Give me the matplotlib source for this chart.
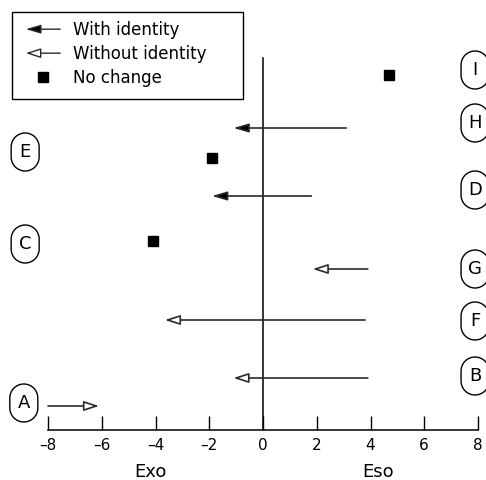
import matplotlib
matplotlib.use("Agg")
import numpy as np
import matplotlib.pyplot as plt
from matplotlib.patches import FancyArrowPatch, PathPatch, Rectangle
from matplotlib.path import Path
from matplotlib.transforms import Affine2D, ScaledTranslation
from matplotlib.lines import Line2D
from matplotlib.legend_handler import HandlerPatch

plt.rcParams['font.family'] = ['DejaVu Sans']

# ---- data ----
with_id_labels = ["H", "D"]
with_id_start = [3.1, 1.8]
with_id_end = [-1.1, -1.9]
with_id_y = [30.2, 23.4]

without_id_labels = ["G", "F", "B", "A"]
without_id_start = [3.9, 3.8, 3.9, -8.0]
without_id_end = [1.85, -3.65, -1.1, -6.1]
without_id_y = [16.1, 11.0, 5.2, 2.4]

nochange_labels = ["I", "E", "C"]
nochange_x = [4.7, -1.9, -4.1]
nochange_y = [35.5, 27.2, 18.9]

group_labels = ["I", "H", "E", "D", "C", "G", "F", "B", "A"]
group_label_x = [7.89, 7.89, -8.85, 7.89, -8.85, 7.89, 7.89, 7.89, -8.9]
group_label_y = [36.0, 30.7, 27.8, 24.0, 18.6, 16.1, 10.9, 5.4, 2.7]

xticks = [-8, -6, -4, -2, 0, 2, 4, 6, 8]
side_labels = ["Exo", "Eso"]
side_label_x = [-4.2, 4.3]

# ---- figure ----
W, H = 486, 480
DPI = 100
fig = plt.figure(figsize=(W / DPI, H / DPI), dpi=DPI)
ax = fig.add_axes([48 / W, 50 / H, 430 / W, 400 / H])
ax.set_xlim(-8, 8)
ax.set_ylim(0, 40)

col = '#2a2a2a'
filled_head = '-|>,head_length=0.65,head_width=0.19'
open_head = '-|>,head_length=0.65,head_width=0.21'
filled_style = dict(arrowstyle=filled_head, color=col, fc='black', lw=1.2,
                    shrinkA=0, shrinkB=0, mutation_scale=14)
open_style = dict(arrowstyle=open_head, ec=col, fc='white', lw=1.2,
                  shrinkA=0, shrinkB=0, mutation_scale=14)

# vertical zero line
ax.plot([0, 0], [0, 37.2], color='black', lw=1.1)

for xs, xe, y in zip(with_id_start, with_id_end, with_id_y):
    ax.annotate('', xy=(xe, y), xytext=(xs, y), arrowprops=filled_style)
for xs, xe, y in zip(without_id_start, without_id_end, without_id_y):
    ax.annotate('', xy=(xe, y), xytext=(xs, y), arrowprops=open_style)
ax.plot(nochange_x, nochange_y, 's', color='black', ms=6.5, clip_on=False)


# stadium-shaped label boxes (size fixed in pixels)
def stadium_path(w_px, h_px):
    r = w_px / 2.0
    c = h_px / 2.0 - r
    top = Path.arc(0, 180)
    bot = Path.arc(180, 360)
    vt = top.vertices * r + [0, c]
    vb = bot.vertices * r + [0, -c]
    ct = top.codes.copy()
    cb = bot.codes.copy()
    cb[0] = Path.LINETO
    verts = np.vstack([vt, vb, vt[:1]])
    codes = np.concatenate([ct, cb, [Path.CLOSEPOLY]])
    return Path(verts, codes)


spath = stadium_path(28, 38)
for lab, x, y in zip(group_labels, group_label_x, group_label_y):
    tr = Affine2D().scale(1.0 / DPI) + fig.dpi_scale_trans + \
        ScaledTranslation(x, y, ax.transData)
    p = PathPatch(spath, fc='white', ec='black', lw=1.0, transform=tr, clip_on=False)
    ax.add_patch(p)
    ax.text(x, y, lab, ha='center', va='center', fontsize=13, clip_on=False)

# axes styling
for s in ['top', 'left', 'right']:
    ax.spines[s].set_visible(False)
ax.spines['bottom'].set_linewidth(1.1)
ax.set_yticks([])
ax.set_xticks(xticks)
ax.set_xticklabels([f"{t:d}".replace('-', '\u2013') for t in xticks])
ax.tick_params(axis='x', direction='in', length=10, width=1.0, labelsize=11, pad=6)

for lab, x in zip(side_labels, side_label_x):
    ax.text(x, -4.2, lab, ha='center', va='center', fontsize=13)

# legend
h_with = FancyArrowPatch((0, 0), (1, 0), arrowstyle=filled_head, fc='black', ec=col)
h_without = FancyArrowPatch((0, 0), (1, 0), arrowstyle=open_head, fc='white', ec=col)
h_sq = Line2D([], [], marker='s', ls='none', color='black', ms=6.5)


def make_arrow(style):
    def f(legend, orig_handle, xdescent, ydescent, width, height, fontsize):
        return FancyArrowPatch((width - xdescent, height / 2 - ydescent),
                               (-xdescent, height / 2 - ydescent),
                               arrowstyle=style, mutation_scale=14, lw=1.2)
    return f


leg = fig.legend([h_with, h_without, h_sq],
                 ["With identity", "Without identity", "No change"],
                 loc='upper left', bbox_to_anchor=(23 / W, 1 - 21 / H),
                 bbox_transform=fig.transFigure,
                 handler_map={h_with: HandlerPatch(patch_func=make_arrow(filled_head)),
                              h_without: HandlerPatch(patch_func=make_arrow(open_head))},
                 fontsize=12, frameon=False, handlelength=2.4, handletextpad=0.6,
                 labelspacing=0.36, borderpad=0, borderaxespad=0)
fig.patches.append(Rectangle((12 / W, 1 - 99 / H), 231 / W, 87 / H,
                             transform=fig.transFigure, fc='none', ec='black',
                             lw=1.0, figure=fig))

fig.savefig('out.png', dpi=DPI)
